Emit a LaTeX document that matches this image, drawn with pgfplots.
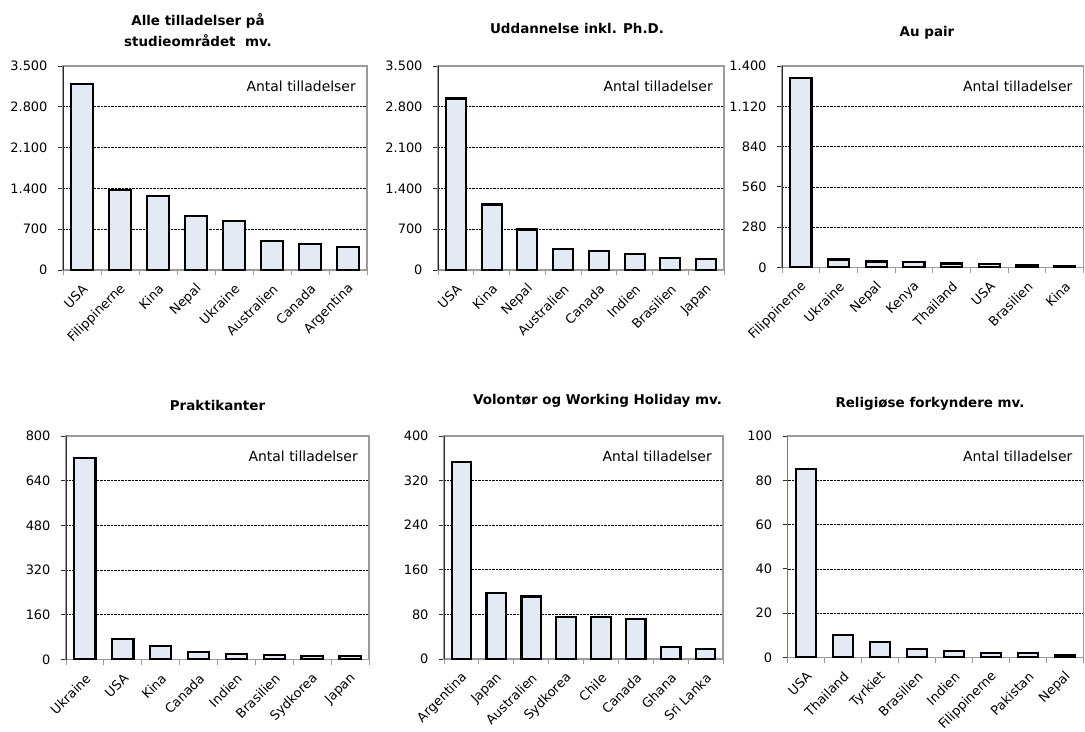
\documentclass[border=0pt]{standalone}
\usepackage{pgfplots}
\pgfplotsset{compat=1.18}
\usepackage{fontspec}
\setmainfont{DejaVu Sans}
\definecolor{barfill}{RGB}{228,234,244}
\definecolor{framegray}{RGB}{155,155,155}
\definecolor{axisdark}{RGB}{45,45,45}
\newcommand{\tickfont}{\fontsize{13}{15}\selectfont}
\newcommand{\antalfont}{\fontsize{14}{16}\selectfont}
\newcommand{\titlefont}{\fontsize{13.5}{16}\selectfont\bfseries}
\pgfplotsset{
 panel/.style={
  scale only axis,
  anchor=south west,
  xmin=0, xmax=8, ymin=0,
  axis line style={draw=framegray, line width=1.3bp},
  tick align=outside,
  tick pos=left,
  xtick={0.5,1.5,...,7.5},
  minor xtick={0,1,...,8},
  major x tick style={draw=none},
  minor x tick style={draw=framegray, line width=0.9bp},
  minor tick length=5bp, major tick length=5bp,
  y tick style={draw=axisdark, line width=0.9bp},
  ymajorgrids, major grid style={black, dash pattern=on 0.7bp off 0.7bp, line width=0.7bp},
  ticklabel style={font=\tickfont},
  /pgf/number format/.cd, 1000 sep={.}, assume math mode=true, /pgfplots/.cd,
  scaled y ticks=false,
  xticklabel style={xshift=4bp, yshift=-11bp, rotate=45, anchor=east, inner sep=1bp},
  yticklabel style={xshift=-7bp},
 },
 bars/.style={ybar, bar width=0.56, draw=black, fill=barfill, line width=2.2bp},
}
\newcommand{\panelextras}{%
  \draw[axisdark, line width=1.3bp] (rel axis cs:0,1) -- (rel axis cs:0,0);
  \node[anchor=base east, inner sep=0, font=\antalfont, xshift=-11bp, yshift=-25bp] at (rel axis cs:1,1) {Antal tilladelser};
}
\begin{document}
\begin{tikzpicture}[x=1bp,y=1bp]
\path[use as bounding box] (0,0) rectangle (1085,-732);

% ---- Panel 1
\begin{axis}[panel, at={(63bp,-270bp)}, width=304bp, height=204bp,
  ymax=3500, ytick={0,700,...,3500},
  xticklabels={USA,Filippinerne,Kina,Nepal,Ukraine,Australien,Canada,Argentina}]
\addplot[bars] coordinates {(0.5,3185) (1.5,1373) (2.5,1270) (3.5,932) (4.5,841) (5.5,492) (6.5,441) (7.5,400)};
\panelextras
\end{axis}
\node[anchor=base, font=\titlefont, inner sep=0] at (198,-26) {Alle tilladelser på};
\node[anchor=base, font=\titlefont, inner sep=0] at (198,-47) {studieområdet\ \ mv.};

% ---- Panel 2
\begin{axis}[panel, at={(438bp,-270bp)}, width=286bp, height=204bp,
  ymax=3500, ytick={0,700,...,3500},
  xticklabels={USA,Kina,Nepal,Australien,Canada,Indien,Brasilien,Japan}]
\addplot[bars] coordinates {(0.5,2944) (1.5,1124) (2.5,694) (3.5,367) (4.5,332) (5.5,275) (6.5,212) (7.5,184)};
\panelextras
\end{axis}
\node[anchor=base, font=\titlefont, inner sep=0] at (577,-34) {Uddannelse inkl. Ph.D.};

% ---- Panel 3
\begin{axis}[panel, at={(782bp,-267.5bp)}, width=301.5bp, height=201.5bp,
  ymax=1400, ytick={0,280,...,1400},
  xticklabels={Filippinerne,Ukraine,Nepal,Kenya,Thailand,USA,Brasilien,Kina}]
\addplot[bars] coordinates {(0.5,1315) (1.5,56) (2.5,42) (3.5,37) (4.5,28) (5.5,23) (6.5,18) (7.5,12)};
\panelextras
\end{axis}
\node[anchor=base, font=\titlefont, inner sep=0] at (927,-37) {Au pair};

% ---- Panel 4
\begin{axis}[panel, at={(66bp,-659.5bp)}, width=303bp, height=223.5bp,
  ymax=800, ytick={0,160,...,800},
  xticklabels={Ukraine,USA,Kina,Canada,Indien,Brasilien,Sydkorea,Japan}]
\addplot[bars] coordinates {(0.5,721) (1.5,72) (2.5,47) (3.5,27) (4.5,20) (5.5,15) (6.5,13) (7.5,12)};
\panelextras
\end{axis}
\node[anchor=base, font=\titlefont, inner sep=0] at (217.5,-410) {Praktikanter};

% ---- Panel 5
\begin{axis}[panel, at={(444bp,-659bp)}, width=279bp, height=223bp,
  ymax=400, ytick={0,80,...,400},
  xticklabels={Argentina,Japan,Australien,Sydkorea,Chile,Canada,Ghana,Sri Lanka}]
\addplot[bars] coordinates {(0.5,353) (1.5,119) (2.5,112) (3.5,76) (4.5,75) (5.5,72) (6.5,22) (7.5,18)};
\panelextras
\end{axis}
\node[anchor=base, font=\titlefont, inner sep=0] at (597.5,-404) {Volontør og Working Holiday mv.};

% ---- Panel 6
\begin{axis}[panel, at={(787.5bp,-657.5bp)}, width=296bp, height=221.5bp,
  ymax=100, ytick={0,20,...,100},
  xticklabels={USA,Thailand,Tyrkiet,Brasilien,Indien,Filippinerne,Pakistan,Nepal}]
\addplot[bars] coordinates {(0.5,85) (1.5,10) (2.5,7) (3.5,4) (4.5,3) (5.5,2) (6.5,2) (7.5,1)};
\panelextras
\end{axis}
\node[anchor=base, font=\titlefont, inner sep=0] at (930,-407) {Religiøse forkyndere mv.};
\end{tikzpicture}
\end{document}
